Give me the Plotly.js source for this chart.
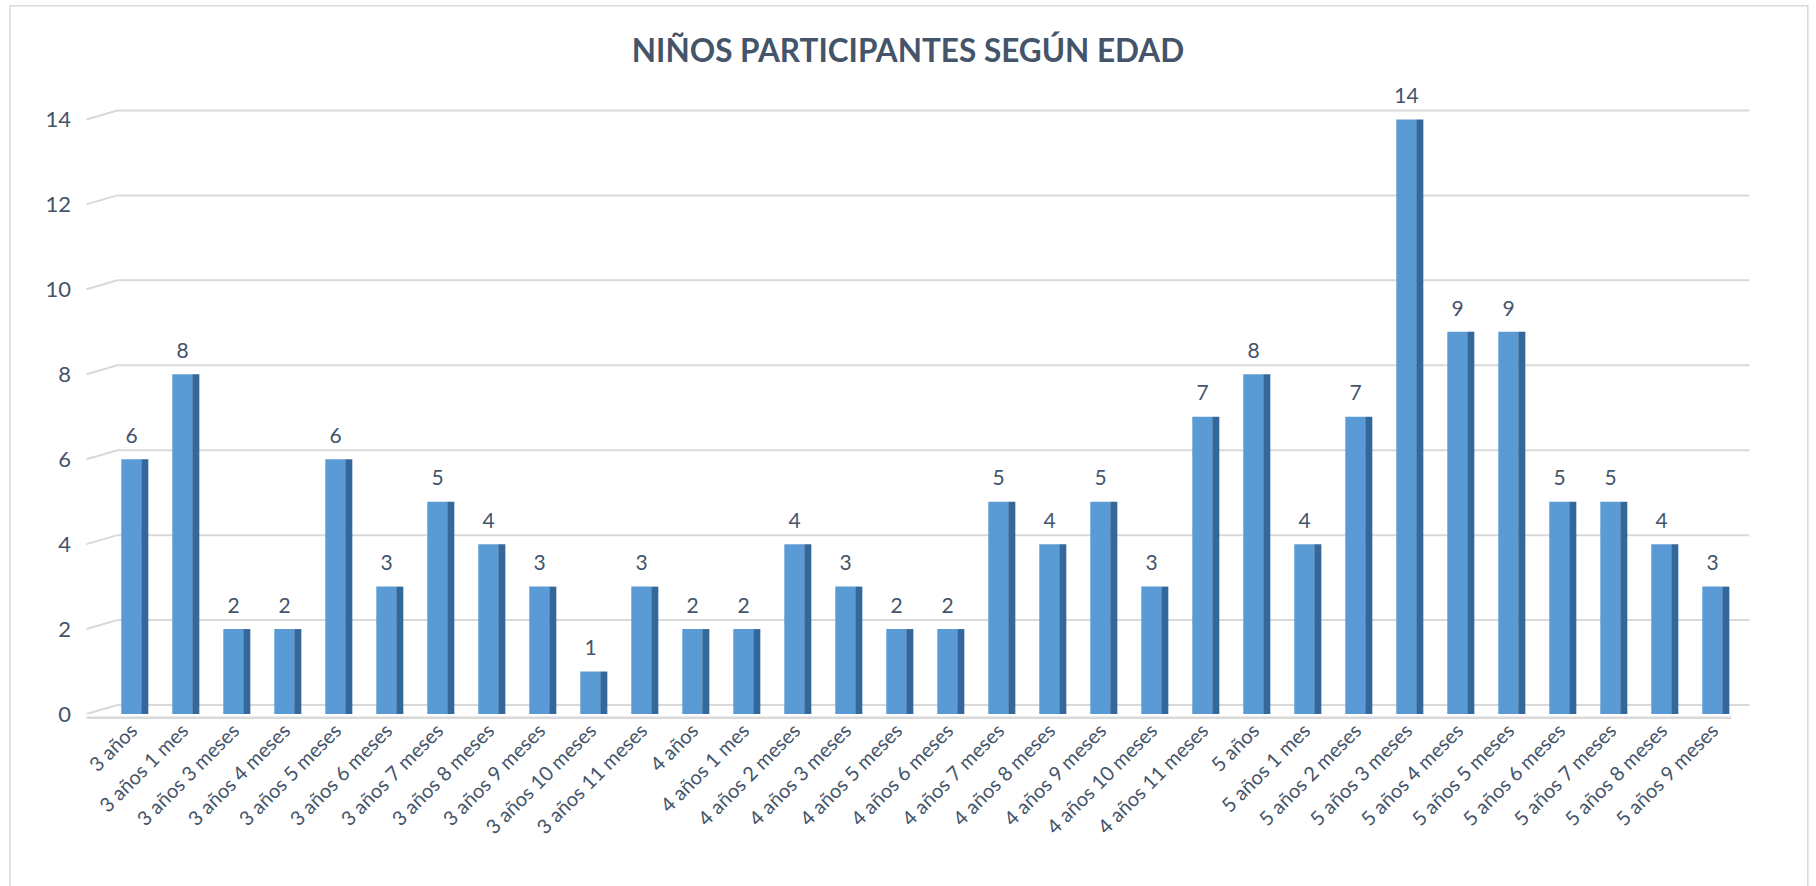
<!DOCTYPE html>
<html>
<head>
<meta charset="utf-8">
<script src="https://cdn.plot.ly/plotly-3.0.1.min.js"></script>
<style>
  html, body { margin: 0; padding: 0; background: #fff; }
  #chart { width: 1816px; height: 886px; }
</style>
</head>
<body>
<div id="chart"></div>
<script>
// edades (categorias del eje x) y numero de niños
const edades = [
  '3 años', '3 años 1 mes', '3 años 3 meses', '3 años 4 meses', '3 años 5 meses',
  '3 años 6 meses', '3 años 7 meses', '3 años 8 meses', '3 años 9 meses',
  '3 años 10 meses', '3 años 11 meses',
  '4 años', '4 años 1 mes', '4 años 2 meses', '4 años 3 meses', '4 años 5 meses',
  '4 años 6 meses', '4 años 7 meses', '4 años 8 meses', '4 años 9 meses',
  '4 años 10 meses', '4 años 11 meses',
  '5 años', '5 años 1 mes', '5 años 2 meses', '5 años 3 meses', '5 años 4 meses',
  '5 años 5 meses', '5 años 6 meses', '5 años 7 meses', '5 años 8 meses', '5 años 9 meses'
];
const ninos = [6, 8, 2, 2, 6, 3, 5, 4, 3, 1, 3,
               2, 2, 4, 3, 2, 2, 5, 4, 5, 3, 7,
               8, 4, 7, 14, 9, 9, 5, 5, 4, 3];
const yTicks = [0, 2, 4, 6, 8, 10, 12, 14];

const textColor = '#44546A';
const gridColor = '#D9D9D9';

// cara frontal de cada barra
const front = {
  type: 'bar',
  x: edades,
  y: ninos,
  width: 0.39,
  offset: -0.2,
  marker: { color: '#5B9BD5', line: { width: 0 } },
  hoverinfo: 'x+y'
};

// lateral oscuro para simular el volumen
const side = {
  type: 'bar',
  x: edades,
  y: ninos,
  width: 0.14,
  offset: 0.19,
  marker: { color: '#34679A', line: { width: 0 } },
  hoverinfo: 'skip'
};

// etiquetas de datos encima de cada barra
const labels = {
  type: 'scatter',
  mode: 'markers+text',
  x: edades,
  y: ninos,
  text: ninos.map(String),
  textposition: 'top center',
  textfont: { family: 'Lato', size: 21, color: textColor },
  marker: { size: 16, opacity: 0 },
  cliponaxis: false,
  hoverinfo: 'skip'
};

// pared del fondo: unos px mas arriba que el frente
const depth = 0.212;
const xFront = -0.012, xBack = 0.007, xBackEnd = 1.007;

const gridShapes = [];
yTicks.forEach(v => {
  // linea de la pared del fondo
  gridShapes.push({
    type: 'line', xref: 'paper', yref: 'y',
    x0: xBack, x1: xBackEnd, y0: v + depth, y1: v + depth,
    line: { color: gridColor, width: 2 }, layer: 'below'
  });
  // diagonal del suelo/lateral hacia el frente
  gridShapes.push({
    type: 'line', xref: 'paper', yref: 'y',
    x0: xFront, y0: v, x1: xBack, y1: v + depth,
    line: { color: gridColor, width: 2 }, layer: 'below'
  });
});

const layout = {
  width: 1816,
  height: 886,
  paper_bgcolor: '#ffffff',
  plot_bgcolor: 'rgba(0,0,0,0)',
  showlegend: false,
  barmode: 'overlay',
  margin: { l: 105.5, r: 77.5, t: 76.5, b: 172 },
  font: { family: 'Lato', color: textColor },
  title: {
    text: '<b>NIÑOS PARTICIPANTES SEGÚN EDAD</b>',
    font: { family: 'Lato', size: 31.5, color: textColor },
    x: 0.5, xanchor: 'center',
    y: 0.943, yanchor: 'middle'
  },
  xaxis: {
    type: 'category',
    range: [-0.5, 31.5],
    tickangle: -45,
    tickfont: { family: 'Lato', size: 20, color: textColor },
    showgrid: false,
    showline: false,
    ticks: ''
  },
  yaxis: {
    range: [0, 15],
    tickvals: yTicks,
    tickfont: { family: 'Lato', size: 22, color: textColor },
    showgrid: false,
    zeroline: false,
    ticks: '',
    ticklabelstandoff: 34
  },
  shapes: gridShapes.concat([
    {
      // linea base frontal
      type: 'line', xref: 'paper', yref: 'paper',
      x0: xFront, x1: 0.996, y0: -0.006, y1: -0.006,
      line: { color: gridColor, width: 2.5 }, layer: 'below'
    },
    {
      // borde del grafico
      type: 'rect', xref: 'paper', yref: 'paper',
      x0: -0.0588, x1: 1.0428, y0: -0.28, y1: 1.112,
      line: { color: gridColor, width: 1.5 },
      fillcolor: 'rgba(0,0,0,0)', layer: 'below'
    }
  ])
};

Plotly.newPlot('chart', [side, front, labels], layout, { displayModeBar: false, staticPlot: true });
</script>
</body>
</html>
